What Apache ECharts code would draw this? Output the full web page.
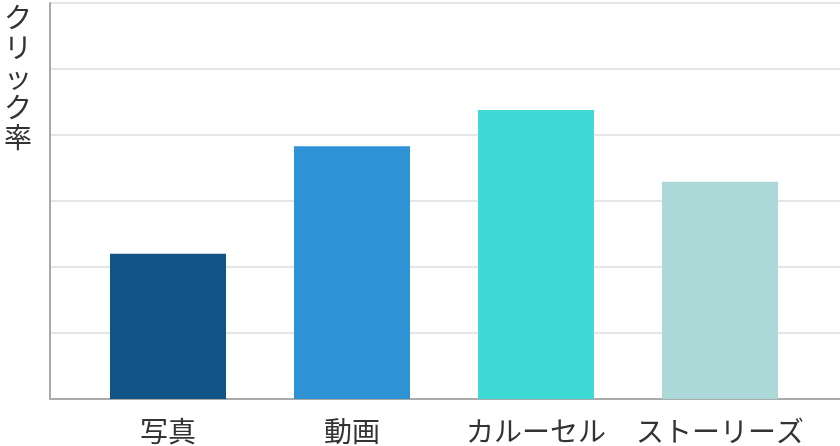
<!DOCTYPE html>
<html><head><meta charset="utf-8">
<script src="https://cdn.jsdelivr.net/npm/echarts@6/dist/echarts.min.js"></script>
<style>html,body{margin:0;padding:0;background:#fff}#c{width:840px;height:446px}</style>
</head><body><div id="c"></div>
<script>
const categories = ['写真', '動画', 'カルーセル', 'ストーリーズ'];
const values = [2.2, 3.83, 4.38, 3.29];
const colors = ['#135487', '#2d93d5', '#3fd9d6', '#acd9d8'];
const yName = 'クリック率';

const font = '"Noto Sans CJK JP", "Noto Sans", sans-serif';
const chart = echarts.init(document.getElementById('c'));
chart.setOption({
  animation: false,
  title: {
    text: yName.split('').join('\n'),
    left: -1, top: -3,
    textStyle: {fontSize: 28, lineHeight: 30, fontWeight: 'normal', color: '#333', fontFamily: font}
  },
  grid: [
    {left: 50, right: 0, top: 3, bottom: 47},
    {left: 76, right: 28, top: 3, bottom: 47}
  ],
  xAxis: [
    {gridIndex: 0, type: 'category', data: categories, axisLine: {lineStyle: {color: '#aaa', width: 2}},
     axisTick: {show: false}, axisLabel: {show: false}},
    {gridIndex: 1, type: 'category', data: categories, axisLine: {show: false}, axisTick: {show: false},
     axisLabel: {interval: 0, fontSize: 28, color: '#333', margin: 18, fontFamily: font}}
  ],
  yAxis: [
    {gridIndex: 0, type: 'value', min: 0, max: 6, interval: 1,
     axisLine: {show: true, lineStyle: {color: '#aaa', width: 2}}, axisTick: {show: false}, axisLabel: {show: false},
     splitLine: {lineStyle: {color: '#e6e6e6', width: 2}}},
    {gridIndex: 1, type: 'value', min: 0, max: 6, interval: 1, show: false, splitLine: {show: false}}
  ],
  series: [{
    type: 'bar', xAxisIndex: 1, yAxisIndex: 1, barWidth: 116,
    data: values.map((v, i) => ({value: v, itemStyle: {color: colors[i]}}))
  }]
});
</script></body></html>
